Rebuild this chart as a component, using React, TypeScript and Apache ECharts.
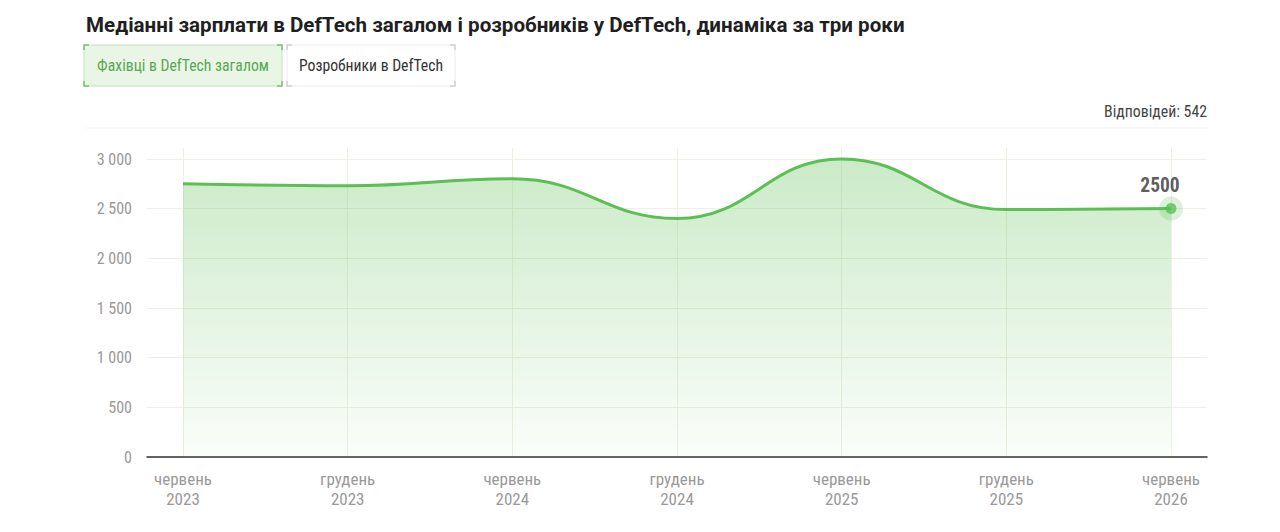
import React, { useEffect, useRef } from "react";
import * as echarts from "echarts";

const categories = [
  "червень\n2023",
  "грудень\n2023",
  "червень\n2024",
  "грудень\n2024",
  "червень\n2025",
  "грудень\n2025",
  "червень\n2026",
];
const salaries = [2750, 2730, 2800, 2400, 3000, 2490, 2500];
const yTicks = [0, 500, 1000, 1500, 2000, 2500, 3000];
const titleText = "Медіанні зарплати в DefTech загалом і розробників у DefTech, динаміка за три роки";
const tabLabels = ["Фахівці в DefTech загалом", "Розробники в DefTech"];
const answersText = "Відповідей: 542";

const COND = '"Roboto Condensed", "Liberation Sans Narrow", "Roboto", sans-serif';
const GREEN = "#5cbf55";

function corners(x1: number, y1: number, x2: number, y2: number, color: string) {
  const L = 5;
  const pts = [
    [[x1, y1 + L], [x1, y1], [x1 + L, y1]],
    [[x2 - L, y1], [x2, y1], [x2, y1 + L]],
    [[x1, y2 - L], [x1, y2], [x1 + L, y2]],
    [[x2 - L, y2], [x2, y2], [x2, y2 - L]],
  ];
  return pts.map((p) => ({
    type: "polyline",
    shape: { points: p },
    style: { stroke: color, lineWidth: 1.5, fill: null },
    z: 10,
  }));
}

export default function App() {
  const ref = useRef<HTMLDivElement>(null);
  useEffect(() => {
    document.body.style.margin = "0";
    const chart = echarts.init(ref.current!, null, { renderer: "svg" });
    const last = salaries.length - 1;
    chart.setOption({
      animation: false,
      backgroundColor: "#ffffff",
      title: {
        text: titleText,
        left: 81,
        top: 9,
        textStyle: { fontFamily: "Roboto, sans-serif", fontWeight: "bold", fontSize: 20.6, color: "#1f1f1f" },
      },
      graphic: [
        { type: "rect", shape: { x: 84, y: 45, width: 198, height: 41 }, style: { fill: "#e9f6e6", stroke: "#bfe4b8", lineWidth: 1 } },
        ...corners(84, 45, 282, 86, "#76c46c"),
        { type: "text", x: 183, y: 65, style: { text: tabLabels[0], fontFamily: COND, fontSize: 15.7, fill: "#5aa752", align: "center", verticalAlign: "middle" } },
        { type: "rect", shape: { x: 287, y: 45, width: 168, height: 41 }, style: { fill: "#ffffff", stroke: "#ececec", lineWidth: 1 } },
        ...corners(287, 45, 455, 86, "#cfcfcf"),
        { type: "text", x: 371, y: 65, style: { text: tabLabels[1], fontFamily: COND, fontSize: 15.7, fill: "#333333", align: "center", verticalAlign: "middle" } },
        { type: "text", x: 1207, y: 111, style: { text: answersText, fontFamily: COND, fontSize: 15.8, fill: "#444444", align: "right", verticalAlign: "middle" } },
        { type: "line", shape: { x1: 86, y1: 128, x2: 1207, y2: 128 }, style: { stroke: "#f1f1f1", lineWidth: 1 } },
      ],
      grid: [
        { left: 183, right: 109, top: 148, bottom: 75 },
        { left: 147, right: 73, top: 159, bottom: 75 },
      ],
      xAxis: [
        {
          type: "category",
          gridIndex: 0,
          data: categories,
          boundaryGap: false,
          axisLine: { show: false },
          axisTick: { show: false },
          splitLine: { show: true, lineStyle: { color: "#eef0e2", width: 1 } },
          axisLabel: { margin: 12, fontFamily: COND, fontSize: 17, color: "#999999", lineHeight: 20, align: "center" },
        },
        {
          type: "value",
          gridIndex: 1,
          min: 0,
          max: 1,
          axisLine: { show: true, lineStyle: { color: "#333333", width: 1.5 } },
          axisTick: { show: false },
          axisLabel: { show: false },
          splitLine: { show: false },
        },
      ],
      yAxis: [
        {
          type: "value",
          gridIndex: 0,
          min: 0,
          max: 3110,
          show: false,
          splitLine: { show: false },
        },
        {
          type: "value",
          gridIndex: 1,
          min: yTicks[0],
          max: yTicks[yTicks.length - 1],
          interval: 500,
          axisLine: { show: false },
          axisTick: { show: false },
          splitLine: { show: true, lineStyle: { color: "#f0efe6", width: 1 } },
          axisLabel: {
            margin: 15,
            fontFamily: COND,
            fontSize: 16,
            color: "#999999",
            formatter: (v: number) => String(v).replace(/\B(?=(\d{3})+(?!\d))/g, " "),
          },
        },
      ],
      series: [
        {
          type: "line",
          xAxisIndex: 0,
          yAxisIndex: 0,
          data: salaries,
          smooth: 0.45,
          symbol: "none",
          lineStyle: { color: GREEN, width: 3 },
          areaStyle: {
            color: new echarts.graphic.LinearGradient(0, 0, 0, 1, [
              { offset: 0, color: "rgba(106,196,96,0.5)" },
              { offset: 1, color: "rgba(106,196,96,0.04)" },
            ]),
          },
          z: 3,
        },
        {
          type: "scatter",
          xAxisIndex: 0,
          yAxisIndex: 0,
          data: [[last, salaries[last]]],
          symbolSize: 24,
          itemStyle: { color: "rgba(92,191,85,0.28)" },
          silent: true,
          z: 4,
        },
        {
          type: "scatter",
          xAxisIndex: 0,
          yAxisIndex: 0,
          data: [[last, salaries[last]]],
          symbolSize: 11,
          itemStyle: { color: GREEN },
          label: {
            show: true,
            position: "top",
            distance: 8,
            offset: [-11, 0],
            formatter: (p: any) => String(p.value[1]),
            fontFamily: COND,
            fontSize: 19.5,
            fontWeight: "bold",
            color: "#333333",
          },
          z: 5,
        },
      ],
    });
    return () => chart.dispose();
  }, []);
  return <div ref={ref} style={{ width: 1280, height: 532 }} />;
}
